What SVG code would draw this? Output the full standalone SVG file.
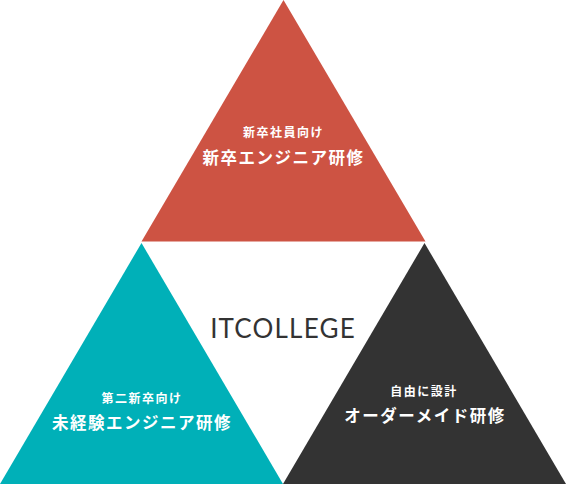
<svg xmlns="http://www.w3.org/2000/svg" width="566" height="484" viewBox="0 0 566 484">
<style>
.sub{font-family:"Noto Sans CJK JP","Noto Sans",sans-serif;font-size:12px;font-weight:700;fill:#fff;text-anchor:middle;letter-spacing:1.5px}
.main{font-family:"Noto Sans CJK JP","Noto Sans",sans-serif;font-size:16.5px;font-weight:700;fill:#fff;text-anchor:middle;letter-spacing:1.5px}
.logo{font-family:Lato,"Noto Sans",sans-serif;font-size:26px;font-weight:400;fill:#333;text-anchor:middle;letter-spacing:1.2px}
</style>
<rect width="566" height="484" fill="#fff"/>
<g id="node-new-grad">
<polygon points="283.5,0 425.5,241.5 141.5,241.5" fill="#CD5343"/>
<text class="sub" x="283.5" y="137">新卒社員向け</text>
<text class="main" x="283.5" y="164">新卒エンジニア研修</text>
</g>
<g id="node-second-grad">
<polygon points="141.5,243 283,484 0,484" fill="#00B0B8"/>
<text class="sub" x="142" y="403">第二新卒向け</text>
<text class="main" x="142" y="429">未経験エンジニア研修</text>
</g>
<g id="node-custom">
<polygon points="424.5,243 566,484 283,484" fill="#333333"/>
<text class="sub" x="424" y="396">自由に設計</text>
<text class="main" x="425" y="422">オーダーメイド研修</text>
</g>
<g id="node-center">
<text class="logo" x="283" y="338">ITCOLLEGE</text>
</g>
<g id="connectors"></g>
</svg>
